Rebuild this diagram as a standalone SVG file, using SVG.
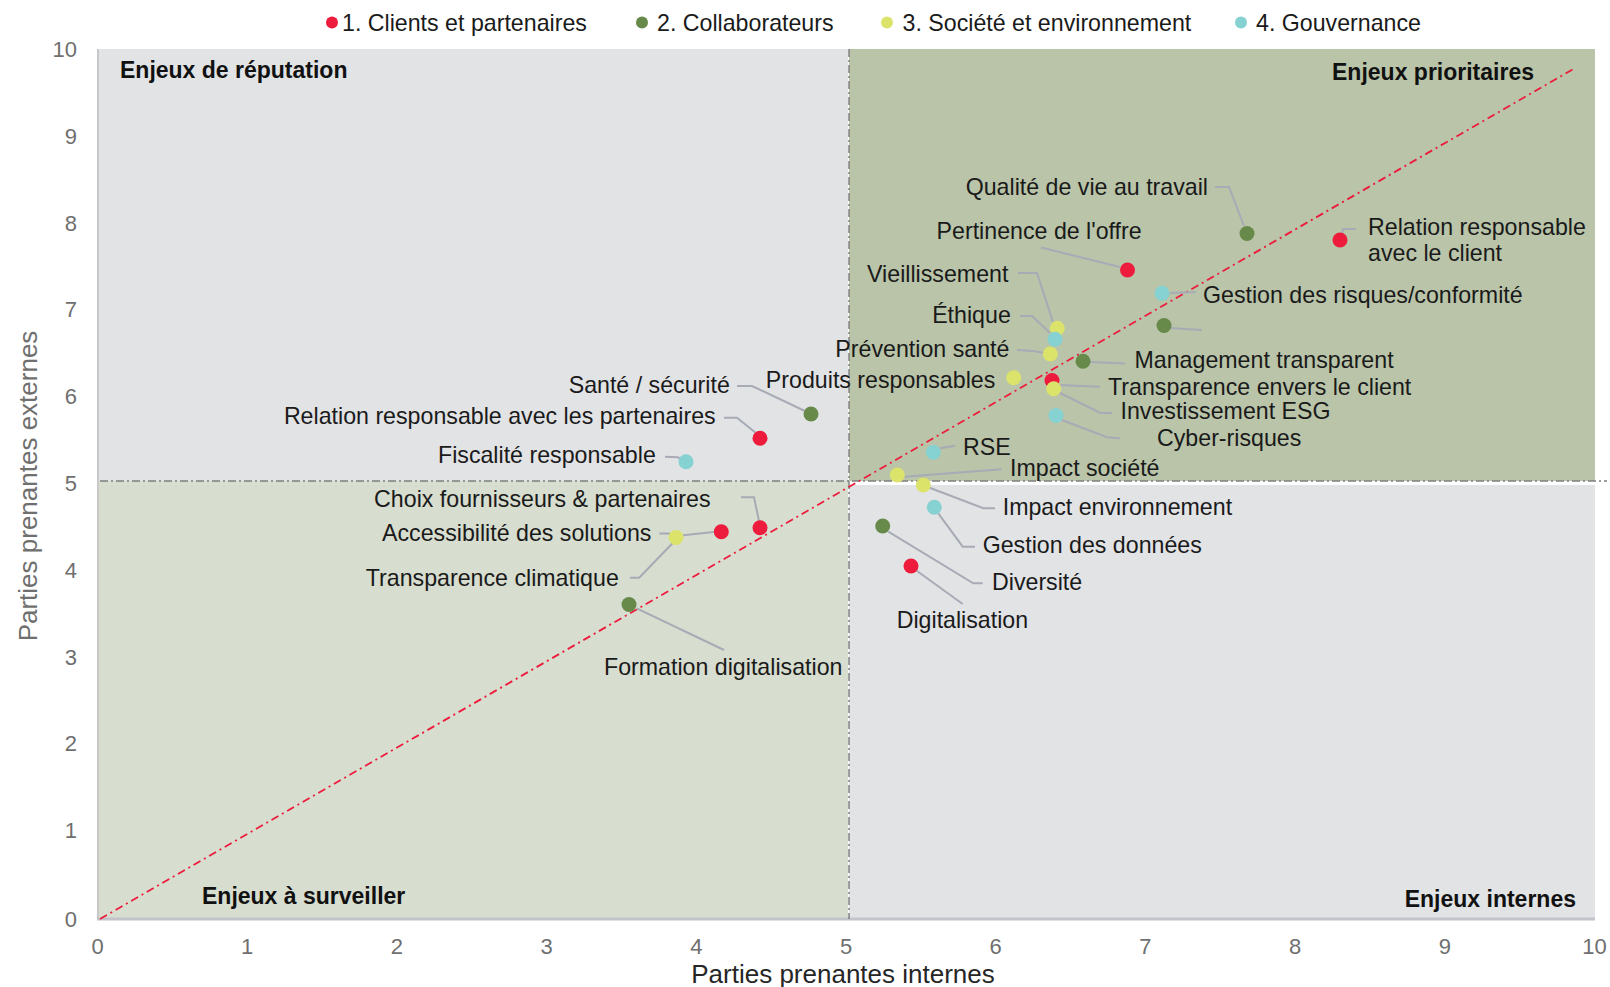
<svg xmlns="http://www.w3.org/2000/svg" width="1610" height="987" viewBox="0 0 1610 987">
<style>
text{font-family:"Liberation Sans",Arial,sans-serif;}
.lbl{font-size:23.2px;fill:#1a1a1a;}
.end{text-anchor:end;}
.q{font-size:23px;font-weight:bold;fill:#111;}
.tk{font-size:22px;fill:#6f6f6f;}
.ax{font-size:26px;}
.lead{fill:none;stroke:#a7abb5;stroke-width:2;}
.r{fill:#ed1b3c;}
.g{fill:#67894a;}
.y{fill:#dce36b;}
.c{fill:#86d1d1;}
</style>
<rect width="1610" height="987" fill="#ffffff"/>
<g id="quadrants">
<rect x="97" y="49" width="751" height="432" fill="#e2e3e5"/>
<rect x="849" y="49" width="746" height="432" fill="#b9c4a9"/>
<rect x="97" y="481" width="751" height="438" fill="#d7ddcf"/>
<rect x="849" y="485" width="746" height="434" fill="#e2e3e5"/>
<line x1="98" y1="49" x2="98" y2="919" stroke="#c8c8c8" stroke-width="2"/>
<line x1="97" y1="919" x2="1595" y2="919" stroke="#c3c3cb" stroke-width="3"/>
<line x1="849" y1="49" x2="849" y2="919" stroke="#7f7f7f" stroke-width="1.5" stroke-dasharray="8 3 2 3"/>
<line x1="100" y1="481" x2="1607" y2="481" stroke="#7f7f7f" stroke-width="1.5" stroke-dasharray="8 3 2 3"/>
<line x1="100" y1="919" x2="1575" y2="68" stroke="#ed1b3c" stroke-width="1.8" stroke-dasharray="8 4 2 4"/>
</g>
<g id="quadrant-titles">
<text class="q" x="120" y="78">Enjeux de réputation</text>
<text class="q end" x="1534" y="80">Enjeux prioritaires</text>
<text class="q" x="202" y="904">Enjeux à surveiller</text>
<text class="q end" x="1576" y="907">Enjeux internes</text>
</g>
<g id="axes">
<g class="tk" text-anchor="end">
<text x="77" y="927">0</text>
<text x="77" y="838">1</text>
<text x="77" y="751">2</text>
<text x="77" y="665">3</text>
<text x="77" y="578">4</text>
<text x="77" y="491">5</text>
<text x="77" y="404">6</text>
<text x="77" y="317">7</text>
<text x="77" y="231">8</text>
<text x="77" y="144">9</text>
<text x="77" y="57">10</text>
</g>
<g class="tk" text-anchor="middle">
<text x="97.5" y="954">0</text>
<text x="247.2" y="954">1</text>
<text x="396.9" y="954">2</text>
<text x="546.6" y="954">3</text>
<text x="696.3" y="954">4</text>
<text x="846" y="954">5</text>
<text x="995.7" y="954">6</text>
<text x="1145.4" y="954">7</text>
<text x="1295.1" y="954">8</text>
<text x="1444.8" y="954">9</text>
<text x="1594.5" y="954">10</text>
</g>
<text class="ax" x="843" y="983" text-anchor="middle" fill="#262626">Parties prenantes internes</text>
<text class="ax" transform="translate(37,486) rotate(-90)" text-anchor="middle" fill="#6f6f6f">Parties prenantes externes</text>
</g>
<g id="legend">
<circle class="r" cx="332" cy="22.5" r="6"/>
<text class="lbl" x="342" y="30.5">1. Clients et partenaires</text>
<circle class="g" cx="642" cy="22.5" r="6"/>
<text class="lbl" x="657" y="30.5">2. Collaborateurs</text>
<circle class="y" cx="887" cy="22.5" r="6"/>
<text class="lbl" x="902.5" y="30.5">3. Société et environnement</text>
<circle class="c" cx="1241" cy="22.5" r="6"/>
<text class="lbl" x="1256" y="30.5">4. Gouvernance</text>
</g>
<g id="connectors">
<polyline class="lead" points="1215,187 1229,187 1244,226"/>
<polyline class="lead" points="1041,247.5 1120,267"/>
<polyline class="lead" points="1342,234 1343,229 1356,229"/>
<polyline class="lead" points="1170,293 1196,292"/>
<polyline class="lead" points="1170,328 1202,330"/>
<polyline class="lead" points="1018,273 1037,273 1053,322"/>
<polyline class="lead" points="1020,316 1032,316 1050,333"/>
<polyline class="lead" points="1017,350 1033,351 1045,353"/>
<polyline class="lead" points="1090,362 1125,363.5"/>
<polyline class="lead" points="1059,385 1100,386.7"/>
<polyline class="lead" points="1058,392 1100,412.7 1112,413.3"/>
<polyline class="lead" points="1062,420 1107,437.3 1120,438.3"/>
<polyline class="lead" points="940,448.3 955,445.7"/>
<polyline class="lead" points="905,476.7 1001.7,469.3"/>
<polyline class="lead" points="928.3,487.3 983.3,508.3 995,508.3"/>
<polyline class="lead" points="938.3,513.3 962.7,546.7 975,546.7"/>
<polyline class="lead" points="888.3,531.7 973.3,583.3 982.7,583.3"/>
<polyline class="lead" points="916.7,570.7 962.7,604"/>
<polyline class="lead" points="636.7,608.3 724,650"/>
<polyline class="lead" points="737,386 752,386 807,412"/>
<polyline class="lead" points="724,417.7 737,417.7 756,433"/>
<polyline class="lead" points="665,456.7 678,457.3 682,460"/>
<polyline class="lead" points="741,497.3 754,497.3 759.4,523"/>
<polyline class="lead" points="659.5,533.5 669,533.5 676,536 716,531.7"/>
<polyline class="lead" points="630,577.7 639.2,577.7 672.5,543.3"/>
</g>
<g id="n-relation-client"><circle class="r" cx="1340" cy="240" r="7.5"/><text class="lbl" x="1368" y="234.5">Relation responsable</text><text class="lbl" x="1368" y="261">avec le client</text></g>
<g id="n-qualite"><circle class="g" cx="1247" cy="233.5" r="7.5"/><text class="lbl end" x="1208" y="195">Qualité de vie au travail</text></g>
<g id="n-pertinence"><circle class="r" cx="1127.5" cy="270" r="7.5"/><text class="lbl end" x="1141.7" y="239">Pertinence de l'offre</text></g>
<g id="n-gestion-risques"><circle class="c" cx="1162" cy="293.3" r="7.5"/><text class="lbl" x="1203" y="303">Gestion des risques/conformité</text></g>
<g id="n-unlabeled"><circle class="g" cx="1164" cy="325.5" r="7.5"/></g>
<g id="n-vieillissement"><circle class="y" cx="1057.3" cy="328.3" r="7.5"/><text class="lbl end" x="1008.4" y="282">Vieillissement</text></g>
<g id="n-ethique"><circle class="c" cx="1055" cy="339.3" r="7.5"/><text class="lbl end" x="1010.8" y="323">Éthique</text></g>
<g id="n-prevention"><circle class="y" cx="1050.3" cy="354" r="7.5"/><text class="lbl end" x="1009.4" y="357">Prévention santé</text></g>
<g id="n-management"><circle class="g" cx="1083" cy="361.3" r="7.5"/><text class="lbl" x="1134.5" y="368">Management transparent</text></g>
<g id="n-produits"><circle class="y" cx="1013.7" cy="377.7" r="7.5"/><text class="lbl end" x="995.3" y="388">Produits responsables</text></g>
<g id="n-transparence-client"><circle class="r" cx="1052" cy="380.5" r="7.5"/><text class="lbl" x="1108" y="395">Transparence envers le client</text></g>
<g id="n-investissement"><circle class="y" cx="1053.7" cy="388.7" r="7.5"/><text class="lbl" x="1120.5" y="419">Investissement ESG</text></g>
<g id="n-cyber"><circle class="c" cx="1056" cy="415.5" r="7.5"/><text class="lbl" x="1157" y="445.5">Cyber-risques</text></g>
<g id="n-rse"><circle class="c" cx="933.3" cy="452.3" r="7.5"/><text class="lbl" x="963" y="455">RSE</text></g>
<g id="n-impact-societe"><circle class="y" cx="897.3" cy="475" r="7.5"/><text class="lbl" x="1010" y="476">Impact société</text></g>
<g id="n-impact-env"><circle class="y" cx="923.3" cy="485" r="7.5"/><text class="lbl" x="1002.7" y="515">Impact environnement</text></g>
<g id="n-gestion-donnees"><circle class="c" cx="934.3" cy="507.3" r="7.5"/><text class="lbl" x="982.7" y="553">Gestion des données</text></g>
<g id="n-diversite"><circle class="g" cx="882.7" cy="526" r="7.5"/><text class="lbl" x="992" y="590">Diversité</text></g>
<g id="n-digitalisation"><circle class="r" cx="911" cy="566" r="7.5"/><text class="lbl" x="896.7" y="627.5">Digitalisation</text></g>
<g id="n-formation"><circle class="g" cx="629" cy="604.5" r="7.5"/><text class="lbl" x="604" y="674.5">Formation digitalisation</text></g>
<g id="n-sante"><circle class="g" cx="811" cy="414" r="7.5"/><text class="lbl end" x="729.8" y="393">Santé / sécurité</text></g>
<g id="n-relation-partenaires"><circle class="r" cx="760" cy="438.3" r="7.5"/><text class="lbl end" x="715.7" y="424">Relation responsable avec les partenaires</text></g>
<g id="n-fiscalite"><circle class="c" cx="686" cy="461.7" r="7.5"/><text class="lbl end" x="655.8" y="463">Fiscalité responsable</text></g>
<g id="n-choix"><circle class="r" cx="760" cy="527.7" r="7.5"/><text class="lbl end" x="710.5" y="507">Choix fournisseurs &amp; partenaires</text></g>
<g id="n-accessibilite"><circle class="r" cx="721.3" cy="531.7" r="7.5"/><text class="lbl end" x="651.4" y="541">Accessibilité des solutions</text></g>
<g id="n-transparence-climatique"><circle class="y" cx="676" cy="537.5" r="7.5"/><text class="lbl end" x="618.8" y="586">Transparence climatique</text></g>
</svg>
